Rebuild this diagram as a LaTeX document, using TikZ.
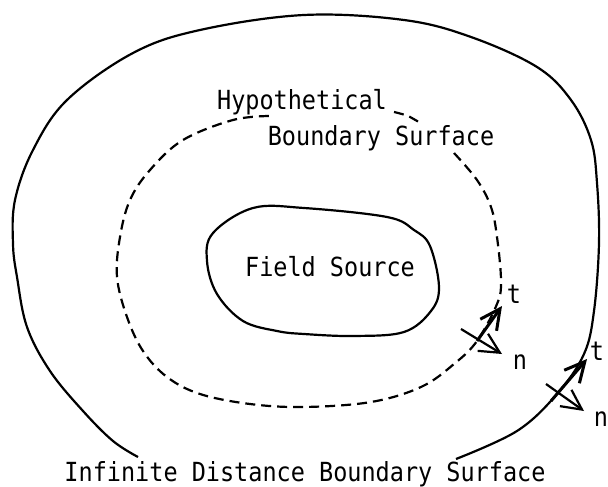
\documentclass[tikz,border=0pt]{standalone}
\usepackage{fontspec}
\setmonofont{DejaVu Sans Mono}
\usetikzlibrary{arrows.meta}

\begin{document}
\begin{tikzpicture}[x=1pt, y=-1pt,
    lbl/.style={font=\ttfamily\fontsize{23.5}{26}\selectfont, inner sep=0pt,
      yscale=1.12, transform shape},
    surf/.style={line width=2.2pt, line join=round},
    hyp/.style={line width=2.2pt, dash pattern=on 10pt off 6pt},
    vec/.style={line width=3pt, -{Straight Barb[length=20pt, width=20pt]}}]
  \useasboundingbox (0,0) rectangle (608,487);

  % infinite distance boundary surface (open at the bottom)
  \draw[surf] plot[smooth, tension=0.6] coordinates {
    (138,457) (113,441) (83,411) (50,371) (27,327) (17,277) (13,244)
    (15,200) (33,150) (67,100) (133,53) (200,30) (304,15) (404,20)
    (471,37) (537,67) (571,100) (591,140) (597,183) (599,243)
    (594,311) (584,354) (557,394) (517,431) (456,459)};

  % hypothetical boundary surface
  \draw[hyp] plot[smooth, tension=0.6] coordinates {
    (454,153) (477,180) (491,207) (497,237) (501,281) (497,304)
    (477,341) (454,364) (421,387) (371,402) (304,407) (250,404)
    (200,394) (167,377) (143,351) (127,317) (117,277) (120,237)
    (130,200) (150,170) (183,140) (233,120) (270,116)};
  \draw[hyp] plot[smooth] coordinates {(394,112) (408,116) (422,124)};

  % field source
  \draw[surf] plot[smooth cycle, tension=0.6] coordinates {
    (253,208) (304,208) (387,217) (414,230) (430,246) (439,287)
    (431,311) (404,332) (354,336) (304,334) (277,331) (243,321)
    (217,294) (207,261) (213,233)};

  \node[lbl] (hypo) at (302,102) {Hypothetical};
  \node[lbl] (bsurf) at (381,138) {Boundary Surface};
  \node[lbl] (src) at (330,267) {Field Source};
  \node[lbl] (inf) at (305,474) {Infinite Distance Boundary Surface};

  % t and n on the hypothetical surface
  \coordinate (ti0) at (477,341);
  \coordinate (ti1) at (502,306);
  \coordinate (ni0) at (461,329);
  \coordinate (ni1) at (502,354);
  \node[lbl] (tin) at (514,294) {t};
  \node[lbl] (nin) at (520,362) {n};
  \draw[vec] (ti0) -- (ti1);
  \draw[vec, line width=2.2pt] (ni0) -- (ni1);

  % t and n on the infinite surface
  \coordinate (to0) at (551,401);
  \coordinate (to1) at (587,359);
  \coordinate (no0) at (546,384);
  \coordinate (no1) at (584,411);
  \node[lbl] (tout) at (597,351) {t};
  \node[lbl] (nout) at (601,419) {n};
  \draw[vec] (to0) -- (to1);
  \draw[vec, line width=2.2pt] (no0) -- (no1);
\end{tikzpicture}
\end{document}
